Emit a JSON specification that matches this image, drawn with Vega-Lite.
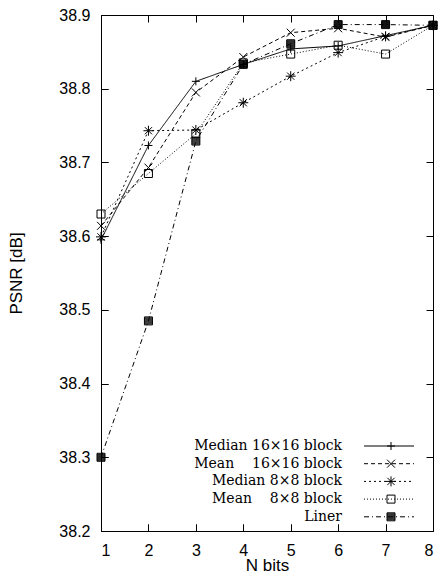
{
  "$schema": "https://vega.github.io/schema/vega-lite/v6.json",
  "width": 332,
  "height": 516,
  "autosize": {"type": "none"},
  "padding": {"left": 101, "top": 15, "right": 10, "bottom": 43},
  "background": "white",
  "config": {
    "view": {"stroke": "black", "strokeWidth": 1},
    "axis": {
      "labelColor": "black", "labelFont": "Liberation Sans", "labelFontSize": 16,
      "titleFont": "Liberation Sans", "titleFontSize": 17, "titleFontWeight": "normal", "titleColor": "black"
    },
    "legend": {"labelFont": "DejaVu Serif", "labelFontSize": 14, "labelColor": "black", "rowPadding": 3.7}
  },
  "data": {"values": [
    {"series": "Median\u00a016\u00d716\u00a0block", "bits": 1, "psnr": 38.595},
    {"series": "Median\u00a016\u00d716\u00a0block", "bits": 2, "psnr": 38.723},
    {"series": "Median\u00a016\u00d716\u00a0block", "bits": 3, "psnr": 38.810},
    {"series": "Median\u00a016\u00d716\u00a0block", "bits": 4, "psnr": 38.833},
    {"series": "Median\u00a016\u00d716\u00a0block", "bits": 5, "psnr": 38.854},
    {"series": "Median\u00a016\u00d716\u00a0block", "bits": 6, "psnr": 38.858},
    {"series": "Median\u00a016\u00d716\u00a0block", "bits": 7, "psnr": 38.872},
    {"series": "Median\u00a016\u00d716\u00a0block", "bits": 8, "psnr": 38.886},
    {"series": "Mean\u00a0\u00a0\u00a0\u00a016\u00d716\u00a0block", "bits": 1, "psnr": 38.614},
    {"series": "Mean\u00a0\u00a0\u00a0\u00a016\u00d716\u00a0block", "bits": 2, "psnr": 38.693},
    {"series": "Mean\u00a0\u00a0\u00a0\u00a016\u00d716\u00a0block", "bits": 3, "psnr": 38.795},
    {"series": "Mean\u00a0\u00a0\u00a0\u00a016\u00d716\u00a0block", "bits": 4, "psnr": 38.843},
    {"series": "Mean\u00a0\u00a0\u00a0\u00a016\u00d716\u00a0block", "bits": 5, "psnr": 38.876},
    {"series": "Mean\u00a0\u00a0\u00a0\u00a016\u00d716\u00a0block", "bits": 6, "psnr": 38.882},
    {"series": "Mean\u00a0\u00a0\u00a0\u00a016\u00d716\u00a0block", "bits": 7, "psnr": 38.870},
    {"series": "Mean\u00a0\u00a0\u00a0\u00a016\u00d716\u00a0block", "bits": 8, "psnr": 38.886},
    {"series": "Median\u00a08\u00d78\u00a0block", "bits": 1, "psnr": 38.599},
    {"series": "Median\u00a08\u00d78\u00a0block", "bits": 2, "psnr": 38.743},
    {"series": "Median\u00a08\u00d78\u00a0block", "bits": 3, "psnr": 38.744},
    {"series": "Median\u00a08\u00d78\u00a0block", "bits": 4, "psnr": 38.781},
    {"series": "Median\u00a08\u00d78\u00a0block", "bits": 5, "psnr": 38.817},
    {"series": "Median\u00a08\u00d78\u00a0block", "bits": 6, "psnr": 38.849},
    {"series": "Median\u00a08\u00d78\u00a0block", "bits": 7, "psnr": 38.871},
    {"series": "Median\u00a08\u00d78\u00a0block", "bits": 8, "psnr": 38.886},
    {"series": "Mean\u00a0\u00a0\u00a0\u00a08\u00d78\u00a0block", "bits": 1, "psnr": 38.630},
    {"series": "Mean\u00a0\u00a0\u00a0\u00a08\u00d78\u00a0block", "bits": 2, "psnr": 38.685},
    {"series": "Mean\u00a0\u00a0\u00a0\u00a08\u00d78\u00a0block", "bits": 3, "psnr": 38.739},
    {"series": "Mean\u00a0\u00a0\u00a0\u00a08\u00d78\u00a0block", "bits": 4, "psnr": 38.835},
    {"series": "Mean\u00a0\u00a0\u00a0\u00a08\u00d78\u00a0block", "bits": 5, "psnr": 38.847},
    {"series": "Mean\u00a0\u00a0\u00a0\u00a08\u00d78\u00a0block", "bits": 6, "psnr": 38.859},
    {"series": "Mean\u00a0\u00a0\u00a0\u00a08\u00d78\u00a0block", "bits": 7, "psnr": 38.847},
    {"series": "Mean\u00a0\u00a0\u00a0\u00a08\u00d78\u00a0block", "bits": 8, "psnr": 38.886},
    {"series": "Liner", "bits": 1, "psnr": 38.300},
    {"series": "Liner", "bits": 2, "psnr": 38.485},
    {"series": "Liner", "bits": 3, "psnr": 38.729},
    {"series": "Liner", "bits": 4, "psnr": 38.833},
    {"series": "Liner", "bits": 5, "psnr": 38.861},
    {"series": "Liner", "bits": 6, "psnr": 38.887},
    {"series": "Liner", "bits": 7, "psnr": 38.887},
    {"series": "Liner", "bits": 8, "psnr": 38.886}
  ]},
  "layer": [
    {
      "mark": {"type": "line", "color": "black", "strokeWidth": 1},
      "encoding": {
        "x": {"field": "bits", "type": "quantitative", "scale": {"domain": [1, 8], "nice": false},
              "axis": {"values": [1, 2, 3, 4, 5, 6, 7, 8], "title": "N bits", "domain": false,
                       "grid": true, "gridColor": "black", "gridOpacity": 1, "gridWidth": 1, "gridDash": [7, 502, 7, 600],
                       "tickColor": "black", "tickWidth": 1, "tickSize": -7, "labelPadding": 18, "titlePadding": -1}},
        "y": {"field": "psnr", "type": "quantitative", "scale": {"domain": [38.2, 38.9], "nice": false, "zero": false},
              "axis": {"values": [38.2, 38.3, 38.4, 38.5, 38.6, 38.7, 38.8, 38.9], "format": ".1f", "title": "PSNR [dB]", "domain": false,
                       "grid": true, "gridColor": "black", "gridOpacity": 1, "gridWidth": 1, "gridDash": [7, 318, 7, 400],
                       "tickColor": "black", "tickWidth": 1, "tickSize": -7, "labelPadding": 18, "titlePadding": 33}},
        "strokeDash": {"field": "series", "type": "nominal",
          "scale": {"domain": ["Median\u00a016\u00d716\u00a0block", "Mean\u00a0\u00a0\u00a0\u00a016\u00d716\u00a0block", "Median\u00a08\u00d78\u00a0block", "Mean\u00a0\u00a0\u00a0\u00a08\u00d78\u00a0block", "Liner"],
                    "range": [[1, 0], [4, 3], [2, 3], [1, 2], [5, 3, 1, 3]]},
          "legend": {"orient": "none", "legendX": 281, "legendY": 424, "title": null,
                     "symbolType": "M-5,0L5,0", "symbolSize": 100, "symbolStrokeColor": "black", "symbolStrokeWidth": 1,
                     "symbolFillColor": "transparent", "labelAlign": "right", "labelOffset": -54, "labelLimit": 300}}
      }
    },
    {
      "mark": {"type": "point", "color": "black", "filled": false, "size": 64, "strokeWidth": 1, "opacity": 1},
      "encoding": {
        "x": {"field": "bits", "type": "quantitative"},
        "y": {"field": "psnr", "type": "quantitative"},
        "shape": {"field": "series", "type": "nominal",
          "sort": ["Median\u00a016\u00d716\u00a0block", "Mean\u00a0\u00a0\u00a0\u00a016\u00d716\u00a0block", "Median\u00a08\u00d78\u00a0block", "Mean\u00a0\u00a0\u00a0\u00a08\u00d78\u00a0block", "Liner"],
          "scale": {"range": [
            "M-1,0L1,0M0,-1L0,1",
            "M-1,-1L1,1M-1,1L1,-1",
            "M-1.25,0L1.25,0M0,-1.25L0,1.25M-0.9,-0.9L0.9,0.9M-0.9,0.9L0.9,-0.9",
            "M-1,-1L1,-1L1,1L-1,1Z",
            "M-1,-1L1,-1L1,1L-1,1ZM-1,-0.75L1,-0.75M-1,-0.5L1,-0.5M-1,-0.25L1,-0.25M-1,0L1,0M-1,0.25L1,0.25M-1,0.5L1,0.5M-1,0.75L1,0.75"
          ]},
          "legend": {"orient": "none", "legendX": 283, "legendY": 424, "title": null,
                     "symbolSize": 64, "symbolStrokeColor": "black", "symbolStrokeWidth": 1,
                     "labelOpacity": 0, "labelAlign": "right", "labelOffset": -54, "labelLimit": 300}}
      }
    }
  ]
}
